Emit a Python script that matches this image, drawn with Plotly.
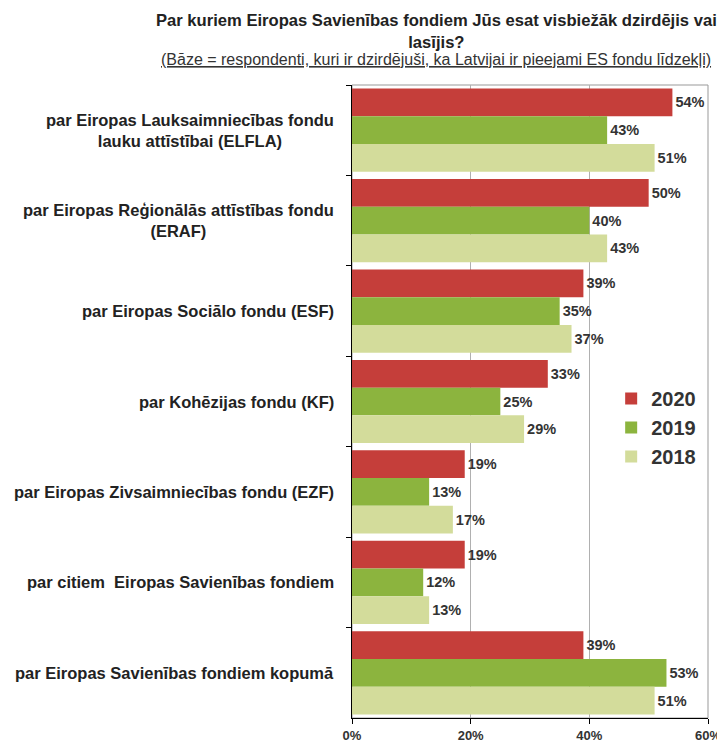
import plotly.graph_objects as go

categories = [
    "par Eiropas Lauksaimniecības fondu<br>lauku attīstībai (ELFLA)",
    "par Eiropas Reģionālās attīstības fondu<br>(ERAF)",
    "par Eiropas Sociālo fondu (ESF)",
    "par Kohēzijas fondu (KF)",
    "par Eiropas Zivsaimniecības fondu (EZF)",
    "par citiem  Eiropas Savienības fondiem",
    "par Eiropas Savienības fondiem kopumā",
]
series_names = ["2020", "2019", "2018"]
values_2020 = [54, 50, 39, 33, 19, 19, 39]
values_2019 = [43, 40, 35, 25, 13, 12, 53]
values_2018 = [51, 43, 37, 29, 17, 13, 51]
x_ticks = [0, 20, 40, 60]
x_tick_labels = ["0%", "20%", "40%", "60%"]

colors = ["#c53e3a", "#8cb43e", "#d3dc9b"]
series_values = [values_2020, values_2019, values_2018]

FONT = "Liberation Sans, Arial, sans-serif"
# page body adds an 8px offset; figure is sized to fit the window
FIG_W, FIG_H = 717, 735
M_L, M_R, M_T, M_B = 344, 17, 77, 25
PLOT_H = FIG_H - M_T - M_B
PLOT_W = FIG_W - M_L - M_R

fig = go.Figure()
for name, vals, col in zip(series_names, series_values, colors):
    fig.add_trace(go.Bar(
        y=categories, x=vals, name=f"<b>{name}</b>", orientation="h",
        marker=dict(color=col, line=dict(width=0)),
        text=[f"<b>{v}%</b>" for v in vals], textposition="outside",
        textfont=dict(family=FONT, size=14.5, color="#333333"),
        cliponaxis=False, legendgroup=name,
    ))

# category labels as centred multi-line annotations
for c in categories:
    fig.add_annotation(
        x=0, y=c, xref="paper", yref="y", xanchor="right", xshift=-16,
        text=f"<b>{c}</b>", showarrow=False, align="center",
        font=dict(family=FONT, size=16.5, color="#222222"),
    )

title_x = (428 - M_L) / PLOT_W
fig.add_annotation(
    x=title_x, y=1 + (M_T - 1) / PLOT_H, xref="paper", yref="paper", yanchor="top",
    xanchor="center", showarrow=False, align="center",
    text="<b>Par kuriem Eiropas Savienības fondiem Jūs esat visbiežāk dzirdējis vai<br>lasījis?</b>",
    font=dict(family=FONT, size=16.6, color="#222222"),
)
fig.add_annotation(
    x=title_x, y=1 + (M_T - 41) / PLOT_H, xref="paper", yref="paper", yanchor="top",
    xanchor="center", showarrow=False,
    text="<u>(Bāze = respondenti, kuri ir dzirdējuši, ka Latvijai ir pieejami ES fondu līdzekļi)</u>",
    font=dict(family=FONT, size=16, color="#333333"),
)

fig.add_shape(type="rect", xref="paper", yref="paper", x0=0, x1=1, y0=0, y1=1,
              line=dict(color="#999999", width=1), layer="below")

fig.update_layout(
    width=FIG_W, height=FIG_H,
    margin=dict(l=M_L, r=M_R, t=M_T, b=M_B, autoexpand=False),
    paper_bgcolor="white", plot_bgcolor="white",
    barmode="group", bargap=0.08, bargroupgap=0.0,
    font=dict(family=FONT, color="#222222"),
    showlegend=True,
    legend=dict(x=0.728, y=(710 - 371) / PLOT_H, xanchor="left", yanchor="top",
                font=dict(family=FONT, size=20, color="#333333"),
                tracegroupgap=15, bgcolor="rgba(0,0,0,0)",
                traceorder="normal", itemwidth=30),
    xaxis=dict(range=[0, 60], tickvals=x_ticks, ticktext=[f"<b>{t}</b>" for t in x_tick_labels],
               showgrid=True, gridcolor="#b0b0b0", gridwidth=1, automargin=False,
               showline=True, linecolor="black", linewidth=1,
               ticks="outside", ticklen=5, tickcolor="black",
               tickfont=dict(family=FONT, size=13, color="#333333"), zeroline=False),
    yaxis=dict(range=[6.5, -0.5], showticklabels=False, showgrid=False, automargin=False,
               showline=True, linecolor="black", linewidth=1,
               ticks="outside", ticklen=5, tickcolor="black", tickson="boundaries"),
)

fig.write_html("out.html")
